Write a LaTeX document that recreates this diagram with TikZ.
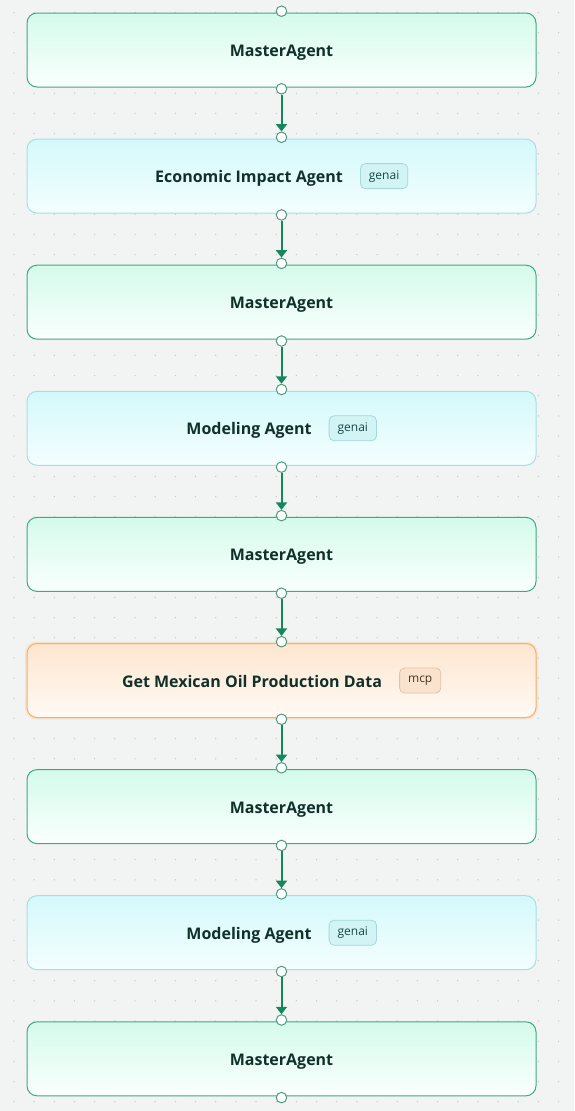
\documentclass[tikz,border=0pt]{standalone}
\usepackage{fontspec}
\setmainfont{Open Sans}
\usetikzlibrary{arrows.meta,positioning,calc}
\definecolor{bgc}{HTML}{F1F4F3}
\definecolor{dotc}{HTML}{C6CCCA}
\definecolor{mborder}{HTML}{3FA886}
\definecolor{mtop}{HTML}{D4FBEC}
\definecolor{mbot}{HTML}{FAFFFD}
\definecolor{gborder}{HTML}{A9DEE0}
\definecolor{gtop}{HTML}{D4F9FB}
\definecolor{gbot}{HTML}{F4FEFE}
\definecolor{oborder}{HTML}{EFB171}
\definecolor{oglow}{HTML}{FBE3CB}
\definecolor{otop}{HTML}{FDE6CF}
\definecolor{obot}{HTML}{FFFAF4}
\definecolor{gbadgefill}{HTML}{D2F4F4}
\definecolor{gbadgeline}{HTML}{A6D7D9}
\definecolor{gbadgetext}{HTML}{174749}
\definecolor{obadgefill}{HTML}{F9E3CF}
\definecolor{obadgeline}{HTML}{E2C3A6}
\definecolor{obadgetext}{HTML}{4A3222}
\definecolor{titlec}{HTML}{10302A}
\definecolor{arrowc}{HTML}{15875B}
\definecolor{handlec}{HTML}{4E9C82}
\begin{document}
\begin{tikzpicture}[x=1pt,y=-1pt,
  box/.style={rounded corners=10pt, minimum width=509pt, minimum height=74pt, line width=1pt, inner sep=0pt},
  masterbox/.style={box, draw=mborder, top color=mtop, bottom color=mbot},
  genaibox/.style={box, draw=gborder, top color=gtop, bottom color=gbot},
  mcpbox/.style={box, draw=oborder, top color=otop, bottom color=obot, preaction={draw=oglow, line width=4pt}},
  title/.style={inner sep=0pt, text height=13pt, text depth=0pt, text=titlec, font=\fontsize{16}{19}\selectfont\bfseries},
  badge/.style={rounded corners=5pt, line width=0.8pt, inner xsep=8.5pt, inner ysep=0pt, minimum height=25pt, font=\fontsize{12}{14}\selectfont},
  gbadge/.style={badge, draw=gbadgeline, fill=gbadgefill, text=gbadgetext},
  obadge/.style={badge, draw=obadgeline, fill=obadgefill, text=obadgetext},
  handle/.style={circle, minimum size=10.5pt, inner sep=0pt, fill=white, draw=handlec, line width=1pt},
  flow/.style={draw=arrowc, line width=2pt, -{Triangle[width=11pt,length=7.5pt]}}
]
\fill[bgc] (0,0) rectangle (574,1111);
\useasboundingbox (0,0) rectangle (574,1111);
\foreach \i in {0,...,27}{
  \foreach \j in {0,...,54}{
    \fill[dotc] (14+\i*20.17, 12.5+\j*20.17) circle[radius=0.75pt];
  }
}
% nodes
\node[masterbox] (n1) at (281.5,50) {};
\node[genaibox]  (n2) at (281.5,176.1) {};
\node[masterbox] (n3) at (281.5,302.2) {};
\node[genaibox]  (n4) at (281.5,428.3) {};
\node[masterbox] (n5) at (281.5,554.4) {};
\node[mcpbox]    (n6) at (281.5,680.5) {};
\node[masterbox] (n7) at (281.5,806.6) {};
\node[genaibox]  (n8) at (281.5,932.7) {};
\node[masterbox] (n9) at (281.5,1058.8) {};
% titles
\node[title] (t1) at (n1) {MasterAgent};
\node[title] (t2) at (249,176.1) {Economic Impact Agent};
\node[gbadge, right=17pt of t2] (b2) {genai};
\node[title] (t3) at (n3) {MasterAgent};
\node[title] (t4) at (249,428.3) {Modeling Agent};
\node[gbadge, right=17pt of t4] (b4) {genai};
\node[title] (t5) at (n5) {MasterAgent};
\node[title] (t6) at (252,680.5) {Get Mexican Oil Production Data};
\node[obadge, right=17pt of t6] (b6) {mcp};
\node[title] (t7) at (n7) {MasterAgent};
\node[title] (t8) at (249,932.7) {Modeling Agent};
\node[gbadge, right=17pt of t8] (b8) {genai};
\node[title] (t9) at (n9) {MasterAgent};
% handles
\foreach \k in {1,...,9}{
  \node[handle] (h\k t) at ($(n\k.north)+(0,-1.3)$) {};
  \node[handle] (h\k b) at ($(n\k.south)+(0,1.3)$) {};
}
% connectors
\foreach \a/\b in {1/2,2/3,3/4,4/5,5/6,6/7,7/8,8/9}{
  \draw[flow] (h\a b.south) -- (h\b t.north);
}
\end{tikzpicture}
\end{document}
